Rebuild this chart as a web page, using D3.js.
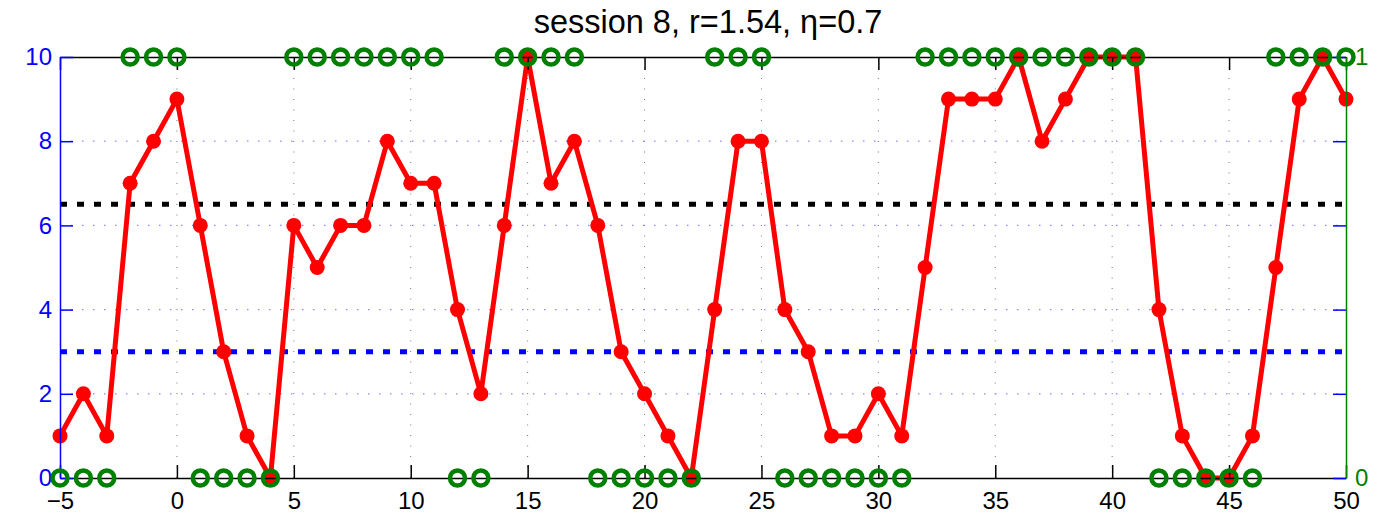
<!DOCTYPE html>
<head>
    <meta charset="utf-8">
    <style>
        body{
            margin:0;
            background:#fff;
        }
        svg{
            display:block;
        }
        .x.axis text{ fill:#000; }
        .x.axis line, .x.axis path{ stroke:#000; stroke-width:1.5px; }
        .y.axis text{ fill:#0000ff; }
        .y.axis line, .y.axis path{ stroke:#0000ff; stroke-width:1.5px; }
        .y2.axis text{ fill:#008000; }
        .y2.axis line{ stroke:#008000; }
        .y2.axis path{ stroke:#008000; stroke-width:1.5px; }
        .grid-x line{
            stroke:#777;
            stroke-width:1px;
            stroke-dasharray:1,9.5;
        }
        .grid-y line{
            stroke:#8888ff;
            stroke-width:1.2px;
            stroke-dasharray:1.5,9.5;
        }
        .thresh{
            stroke-width:5px;
            stroke-dasharray:7,10;
        }
        .resp{
            fill:none;
            stroke:#ff0000;
            stroke-width:5px;
            stroke-linejoin:round;
        }
        .dot{ fill:#ff0000; }
        .ring{
            fill:none;
            stroke:#008000;
            stroke-width:4.5px;
        }
    </style>
</head>
<body>
    <div id="chart"></div>
    <script src="https://d3js.org/d3.v7.min.js"></script>
    <script>
        // trial index
        var trials = [-5,-4,-3,-2,-1,0,1,2,3,4,5,6,7,8,9,10,11,12,13,14,15,16,17,18,19,20,
                      21,22,23,24,25,26,27,28,29,30,31,32,33,34,35,36,37,38,39,40,41,42,43,44,45,46,47,48,49,50];
        // red series (left axis)
        var rating = [1,2,1,7,8,9,6,3,1,0,6,5,6,6,8,7,7,4,2,6,10,7,8,6,3,2,1,0,4,8,8,4,3,1,1,2,1,
                      5,9,9,9,10,8,9,10,10,10,4,1,0,0,1,5,9,10,9];
        // green series (right axis, 0/1)
        var choice = [0,0,0,1,1,1,0,0,0,0,1,1,1,1,1,1,1,0,0,1,1,1,1,0,0,0,0,0,1,1,1,0,0,0,0,0,0,
                      1,1,1,1,1,1,1,1,1,1,0,0,0,0,0,1,1,1,1];
        var upperLevel = 6.5;
        var lowerLevel = 3;

        var xTicks = [-5,0,5,10,15,20,25,30,35,40,45,50];
        var yTicks = [0,2,4,6,8,10];
        var y2Ticks = [0,1];
        var titleText = "session 8, r=1.54, η=0.7";

        var FONT = "'Liberation Sans', Arial, Helvetica, sans-serif";

        var W = 1398, H = 520;
        var margin = {top: 57, right: 52, bottom: 42, left: 60},
            width = W - margin.left - margin.right,
            height = H - margin.top - margin.bottom;

        var svg = d3.select("#chart").append("svg")
            .attr("width", W)
            .attr("height", H)
            .attr("font-family", FONT);

        var g = svg.append("g")
            .attr("transform", "translate(" + margin.left + "," + margin.top + ")");

        var x = d3.scaleLinear().domain([-5, 50]).range([0, width]);
        var y = d3.scaleLinear().domain([0, 10]).range([height, 0]);
        var y2 = d3.scaleLinear().domain([0, 1]).range([height, 0]);

        var data = trials.map(function(t, i) {
            return {t: t, r: rating[i], c: choice[i]};
        });

        // gridlines
        g.append("g")
            .attr("class", "grid-x")
            .selectAll("line")
            .data(xTicks.slice(1, -1))
            .enter().append("line")
                .attr("x1", function(d) { return x(d); })
                .attr("x2", function(d) { return x(d); })
                .attr("y1", 0)
                .attr("y2", height);

        g.append("g")
            .attr("class", "grid-y")
            .selectAll("line")
            .data(yTicks.slice(1, -1))
            .enter().append("line")
                .attr("x1", 0)
                .attr("x2", width)
                .attr("y1", function(d) { return y(d); })
                .attr("y2", function(d) { return y(d); });

        // threshold lines
        g.append("line")
            .attr("class", "thresh")
            .attr("stroke", "#000")
            .attr("x1", 0).attr("x2", width)
            .attr("y1", y(upperLevel)).attr("y2", y(upperLevel));

        g.append("line")
            .attr("class", "thresh")
            .attr("stroke", "#0000ff")
            .attr("x1", 0).attr("x2", width)
            .attr("y1", y(lowerLevel)).attr("y2", y(lowerLevel));

        // red line + markers
        var line = d3.line()
            .x(function(d) { return x(d.t); })
            .y(function(d) { return y(d.r); });

        g.append("path")
            .datum(data)
            .attr("class", "resp")
            .attr("d", line);

        g.selectAll(".dot")
            .data(data)
            .enter().append("circle")
                .attr("class", "dot")
                .attr("cx", function(d) { return x(d.t); })
                .attr("cy", function(d) { return y(d.r); })
                .attr("r", 7.5);

        // axes
        function styleAxis(sel) {
            sel.attr("font-family", FONT).attr("font-size", 24);
        }

        g.append("g")
            .attr("class", "x axis")
            .attr("transform", "translate(0," + height + ")")
            .call(d3.axisBottom(x).tickValues(xTicks).tickSize(-13).tickSizeOuter(0).tickPadding(14)
                .tickFormat(function(d) { return d < 0 ? "\u2212" + Math.abs(d) : d; }))
            .call(styleAxis);

        g.append("g")
            .attr("class", "x axis")
            .call(d3.axisTop(x).tickValues(xTicks).tickSize(-13).tickSizeOuter(0).tickFormat(""));

        g.append("g")
            .attr("class", "y axis")
            .call(d3.axisLeft(y).tickValues(yTicks).tickSize(-13).tickSizeOuter(0).tickPadding(8))
            .call(styleAxis);

        var yr = g.append("g")
            .attr("class", "y axis")
            .attr("transform", "translate(" + width + ",0)")
            .call(d3.axisRight(y).tickValues(yTicks).tickSize(-13).tickSizeOuter(0).tickFormat(""));
        yr.select(".domain").remove();

        g.append("g")
            .attr("class", "y2 axis")
            .attr("transform", "translate(" + width + ",0)")
            .call(d3.axisRight(y2).tickValues(y2Ticks).tickSize(0).tickSizeOuter(0).tickPadding(9)
                .tickFormat(d3.format("d")))
            .call(styleAxis);

        // green rings
        g.selectAll(".ring")
            .data(data)
            .enter().append("circle")
                .attr("class", "ring")
                .attr("cx", function(d) { return x(d.t); })
                .attr("cy", function(d) { return y2(d.c); })
                .attr("r", 7.5);

        // title
        svg.append("text")
            .attr("x", margin.left + width / 2 + 5)
            .attr("y", 33)
            .attr("text-anchor", "middle")
            .attr("font-size", 32.5)
            .attr("fill", "#000")
            .text(titleText);
    </script>
</body>
